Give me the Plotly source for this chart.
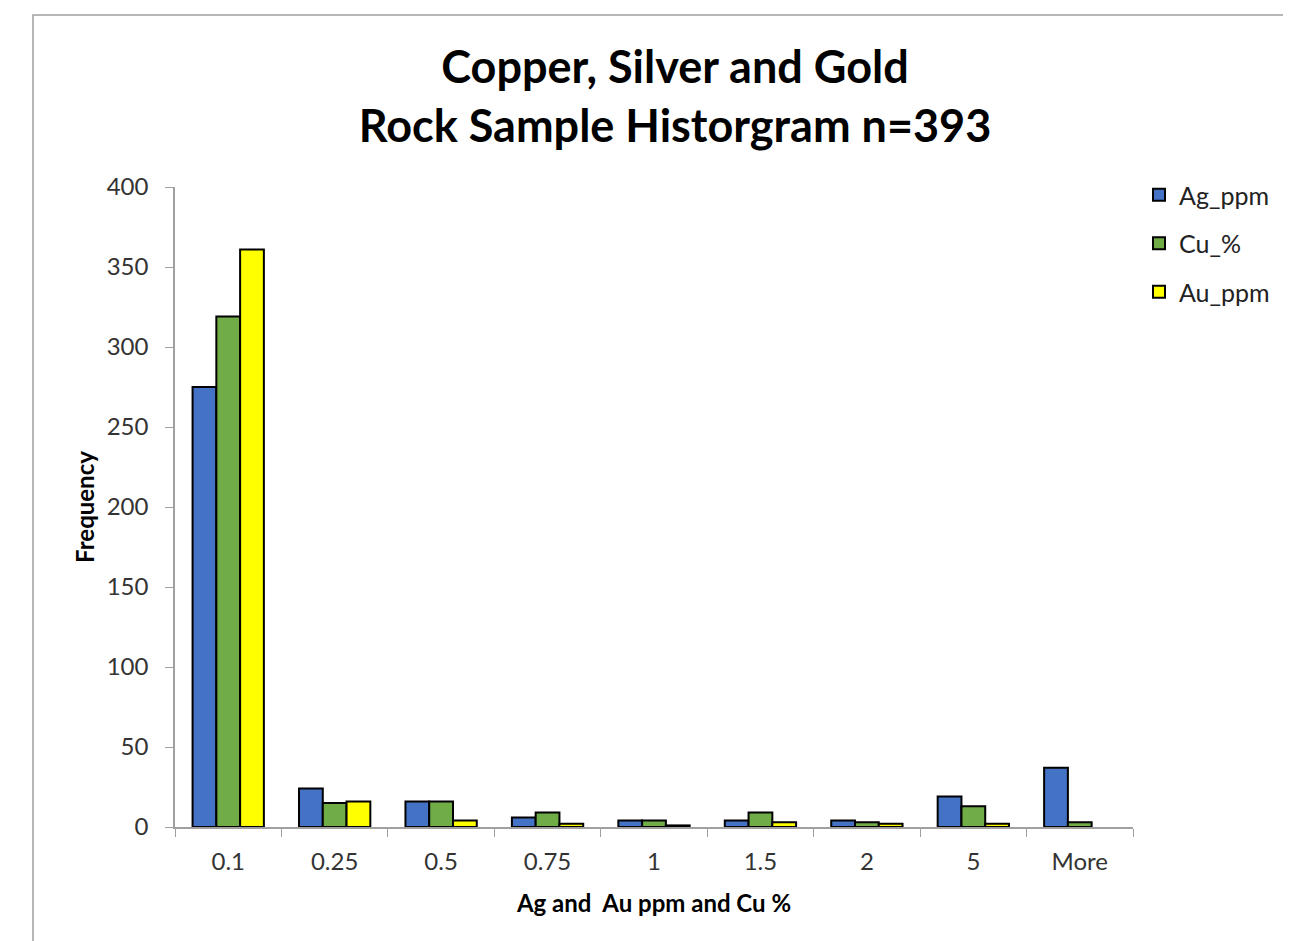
import plotly.graph_objects as go

categories = ["0.1", "0.25", "0.5", "0.75", "1", "1.5", "2", "5", "More"]
ag_ppm = [275, 24, 16, 6, 4, 4, 4, 19, 37]
cu_pct = [319, 15, 16, 9, 4, 9, 3, 13, 3]
au_ppm = [361, 16, 4, 2, 1, 3, 2, 2, 0]

series = [("Ag_ppm", ag_ppm, "#4472C4"), ("Cu_%", cu_pct, "#70AD47"), ("Au_ppm", au_ppm, "#FFFF00")]

FONT = "Lato"
fig = go.Figure()
for i, (name, vals, col) in enumerate(series):
    widths = [2 if v > 0 else 0 for v in vals]
    fig.add_trace(go.Bar(x=categories, y=vals, name=name, legendgroup=f"g{i}",
                         marker=dict(color=col, line=dict(color="black", width=widths))))

W, H = 1291, 941
OFF = 8  # page body offset
L, T = 175 - OFF, 187 - OFF
pw, ph = 958, 640
R, B = W - L - pw, H - T - ph

def px(x):
    return (x - OFF - L) / pw

def py(y):
    return (H - B - (y - OFF)) / ph

fig.update_layout(
    width=W, height=H,
    margin=dict(l=L, r=R, t=T, b=B),
    paper_bgcolor="white", plot_bgcolor="white",
    font=dict(family=FONT, color="#222222"),
    barmode="group", bargap=0.33, bargroupgap=0,
    title=dict(text="<b>Copper, Silver and Gold<br>Rock Sample Historgram n=393</b>",
               x=px(675), xref="paper", xanchor="center",
               y=1 - 75 / H, yanchor="middle",
               font=dict(family=FONT, size=45, color="black")),
    legend=dict(x=px(1139), y=py(172), xanchor="left", yanchor="top",
                tracegroupgap=13, font=dict(family=FONT, size=25, color="#222222"),
                bgcolor="rgba(0,0,0,0)"),
    xaxis=dict(type="category", showline=True, linecolor="#A0A0A0", linewidth=1.5,
               ticks="outside", tickson="boundaries", ticklen=8, tickcolor="#A0A0A0",
               ticklabelstandoff=12,
               tickfont=dict(family=FONT, size=24, color="#333333"),
               title=dict(text="<b>Ag and  Au ppm and Cu %</b>", standoff=22,
                          font=dict(family=FONT, size=24, color="black")),
               showgrid=False),
    yaxis=dict(range=[0, 400], dtick=50, showline=True, linecolor="#A0A0A0", linewidth=1.5,
               ticks="outside", ticklen=8, tickcolor="#A0A0A0",
               ticklabelstandoff=12,
               tickfont=dict(family=FONT, size=24, color="#333333"),
               title=dict(text="<b>Frequency</b>", standoff=5,
                          font=dict(family=FONT, size=24, color="black")),
               showgrid=False, zeroline=False),
    shapes=[dict(type="path", xref="paper", yref="paper",
                 path=f"M {px(33)} {py(960)} L {px(33)} {py(15)} L {px(1300)} {py(15)}",
                 line=dict(color="#A0A0A0", width=1.5))],
)

fig.write_html("out.html")
